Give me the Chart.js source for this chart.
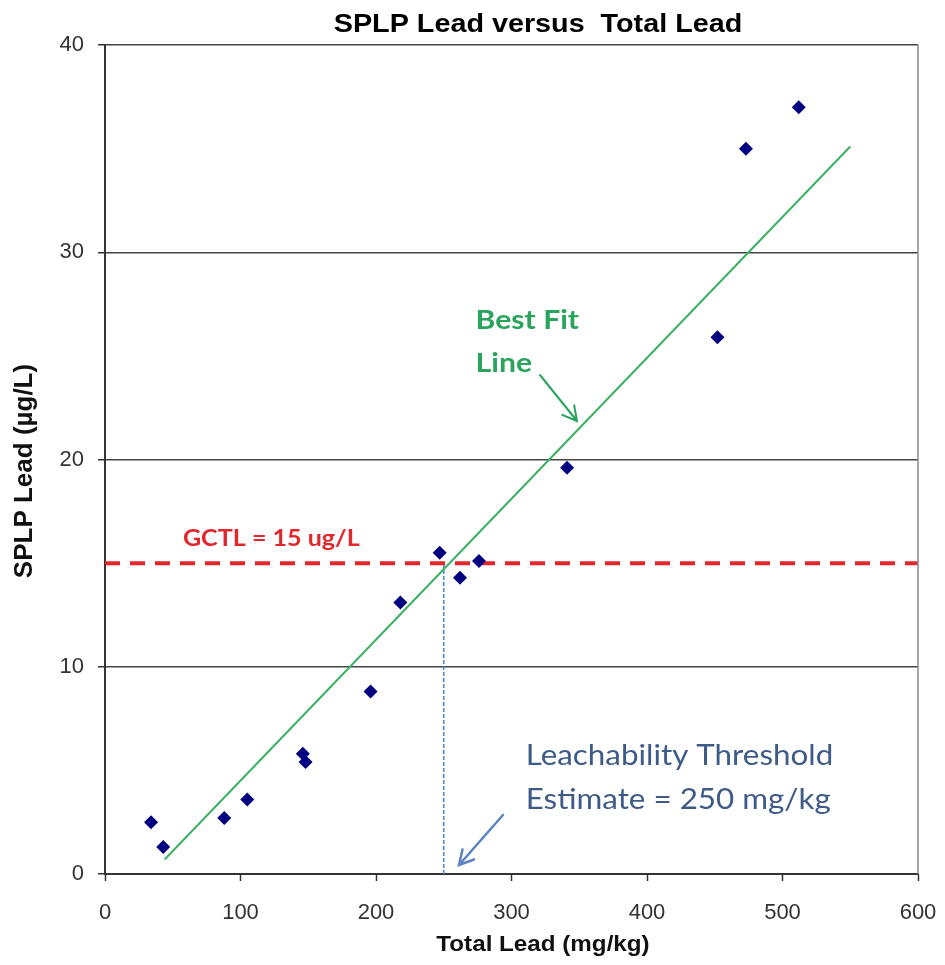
<!DOCTYPE html>
<html>
<head>
<meta charset="utf-8">
<script src="https://cdn.jsdelivr.net/npm/chart.js@4.4.1/dist/chart.umd.min.js"></script>
<style>
  html, body { margin: 0; padding: 0; background: #ffffff; }
  canvas { display: block; }
</style>
</head>
<body>
<canvas id="chart" width="945" height="965"></canvas>
<script>
// Sample results: total lead in soil (mg/kg) against SPLP leachate lead (µg/L)
const totalLead = [34, 43, 88, 105, 146, 148, 196, 218, 247, 262, 276, 341, 452, 473, 512];
const splpLead  = [2.5, 1.3, 2.7, 3.6, 5.8, 5.4, 8.8, 13.1, 15.5, 14.3, 15.1, 19.6, 25.9, 35.0, 37.0];

// Best fit line end points
const fitX = [44, 550];
const fitY = [0.7, 35.1];

// Groundwater cleanup target level and the resulting threshold
const gctlValue = 15;
const gctlSpan = [0, 600];
const thresholdValue = 250;

// Axis ranges
const xRange = [0, 600];
const yRange = [0, 40];
const xStep = 100;
const yStep = 10;

const chartTitle = 'SPLP Lead versus  Total Lead';
const xTitle = 'Total Lead (mg/kg)';
const yTitle = 'SPLP Lead (µg/L)';
const gctlLabel = 'GCTL = 15 ug/L';
const fitLabel = ['Best Fit', 'Line'];
const thresholdLabel = ['Leachability Threshold', 'Estimate = 250 mg/kg'];

const points = totalLead.map((x, i) => ({ x: x, y: splpLead[i] }));
const fitLine = fitX.map((x, i) => ({ x: x, y: fitY[i] }));
const gctlLine = gctlSpan.map(x => ({ x: x, y: gctlValue }));
const thresholdLine = [{ x: thresholdValue, y: 0 }, { x: thresholdValue, y: gctlValue }];

function arrow(ctx, x1, y1, x2, y2, head, color, width) {
  const a = Math.atan2(y2 - y1, x2 - x1);
  ctx.save();
  ctx.strokeStyle = color;
  ctx.lineWidth = width;
  ctx.lineCap = 'round';
  ctx.beginPath();
  ctx.moveTo(x1, y1);
  ctx.lineTo(x2, y2);
  ctx.moveTo(x2 - head * Math.cos(a - 0.5), y2 - head * Math.sin(a - 0.5));
  ctx.lineTo(x2, y2);
  ctx.lineTo(x2 - head * Math.cos(a + 0.5), y2 - head * Math.sin(a + 0.5));
  ctx.stroke();
  ctx.restore();
}

// Text with a slight horizontal widening
function wideText(ctx, text, x, y, font, color, sx, align) {
  ctx.save();
  ctx.font = font;
  ctx.fillStyle = color;
  ctx.textAlign = align || 'left';
  ctx.textBaseline = 'middle';
  ctx.translate(x, y);
  ctx.scale(sx, 1);
  ctx.fillText(text, 0, 0);
  ctx.restore();
}

// Title, axis titles, plot frame, call-out labels and arrows
const decorations = {
  id: 'decorations',
  afterDraw(chart) {
    const ctx = chart.ctx;
    const xs = chart.scales.x, ys = chart.scales.y;
    const area = chart.chartArea;
    ctx.save();

    // right-hand frame edge
    ctx.strokeStyle = '#8a8a8a';
    ctx.lineWidth = 1.5;
    ctx.beginPath();
    ctx.moveTo(area.right, area.top);
    ctx.lineTo(area.right, area.bottom);
    ctx.stroke();
    ctx.restore();

    // chart title
    wideText(ctx, chartTitle, 538, 25, 'bold 25px "Liberation Sans", Arial, sans-serif', '#000000', 1.15, 'center');

    // axis titles
    wideText(ctx, xTitle, 543, 945, 'bold 22px "Liberation Sans", Arial, sans-serif', '#111111', 1.1, 'center');
    ctx.save();
    ctx.translate(25, 471);
    ctx.rotate(-Math.PI / 2);
    ctx.font = 'bold 26px "Liberation Sans", Arial, sans-serif';
    ctx.fillStyle = '#111111';
    ctx.textAlign = 'center';
    ctx.textBaseline = 'middle';
    ctx.fillText(yTitle, 0, 0);
    ctx.restore();

    // GCTL label
    wideText(ctx, gctlLabel, xs.getPixelForValue(57.5), ys.getPixelForValue(16.15),
      'bold 22px Lato, "Open Sans", sans-serif', '#e3262b', 1.14);

    // best fit label
    const calloutFit = 'bold 26px Lato, "Open Sans", sans-serif';
    wideText(ctx, fitLabel[0], xs.getPixelForValue(273.5), ys.getPixelForValue(26.7), calloutFit, '#2aa35d', 1.16);
    wideText(ctx, fitLabel[1], xs.getPixelForValue(273.5), ys.getPixelForValue(24.65), calloutFit, '#2aa35d', 1.16);
    arrow(ctx, 540, 375, 577, 421, 16, '#2aa35d', 2);

    // threshold label
    const calloutThr = '28px Lato, "Open Sans", sans-serif';
    wideText(ctx, thresholdLabel[0], xs.getPixelForValue(310.5), ys.getPixelForValue(5.7), calloutThr, '#3d5a88', 1.12);
    wideText(ctx, thresholdLabel[1], xs.getPixelForValue(310.5), ys.getPixelForValue(3.55), calloutThr, '#3d5a88', 1.12);
    arrow(ctx, 503, 815, 459, 865, 16, '#5b84c4', 2.5);
  }
};

new Chart(document.getElementById('chart'), {
  type: 'scatter',
  data: {
    datasets: [
      {
        label: 'Samples',
        data: points,
        pointStyle: 'rectRot',
        pointRadius: 7,
        pointHoverRadius: 7,
        backgroundColor: '#000080',
        borderColor: '#000080',
        borderWidth: 0,
        order: 0
      },
      {
        label: 'Best fit',
        data: fitLine,
        showLine: true,
        pointRadius: 0,
        borderColor: '#3bb063',
        borderWidth: 2,
        order: 2
      },
      {
        label: 'GCTL',
        data: gctlLine,
        showLine: true,
        pointRadius: 0,
        borderColor: '#e3262b',
        borderWidth: 4,
        borderDash: [15, 10],
        order: 1
      },
      {
        label: 'Threshold',
        data: thresholdLine,
        showLine: true,
        pointRadius: 0,
        borderColor: '#3f8ad0',
        borderWidth: 1.5,
        borderDash: [4, 2],
        order: 3
      }
    ]
  },
  options: {
    responsive: false,
    animation: false,
    events: [],
    layout: { padding: { left: 0, right: 27, top: 45, bottom: 0 } },
    plugins: {
      legend: { display: false },
      title: { display: false },
      tooltip: { enabled: false }
    },
    scales: {
      x: {
        type: 'linear',
        min: xRange[0],
        max: xRange[1],
        afterFit(s) { s.height = 91; s.paddingLeft = 0; s.paddingRight = 0; },
        ticks: {
          stepSize: xStep,
          padding: 19,
          color: '#333333',
          font: { family: '"Liberation Sans", Arial, sans-serif', size: 22 }
        },
        grid: {
          drawOnChartArea: false,
          drawTicks: true,
          tickLength: 7,
          tickColor: '#333333',
          tickWidth: 1.5
        },
        border: { display: true, color: '#333333', width: 2 },
        title: { display: false }
      },
      y: {
        type: 'linear',
        min: yRange[0],
        max: yRange[1],
        afterFit(s) { s.width = 105; s.paddingTop = 0; s.paddingBottom = 0; },
        ticks: {
          stepSize: yStep,
          padding: 14,
          color: '#333333',
          font: { family: '"Liberation Sans", Arial, sans-serif', size: 22 }
        },
        grid: {
          drawOnChartArea: true,
          color: '#444444',
          lineWidth: 1.5,
          drawTicks: true,
          tickLength: 7,
          tickColor: '#333333'
        },
        border: { display: true, color: '#333333', width: 2 },
        title: { display: false }
      }
    }
  },
  plugins: [decorations]
});
</script>
</body>
</html>
